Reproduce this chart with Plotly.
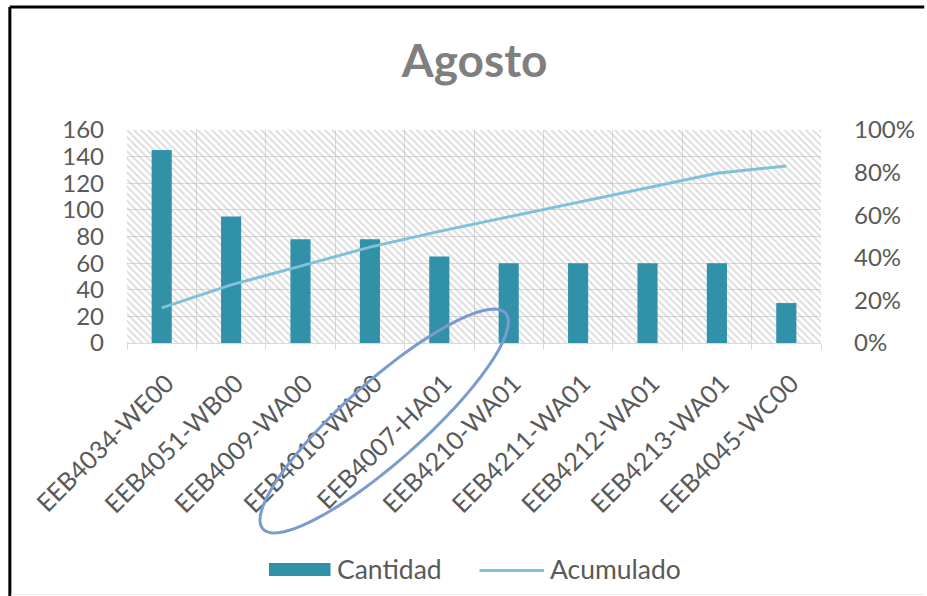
import math
import plotly.graph_objects as go

# Pareto data for August
categorias = ["EEB4034-WE00", "EEB4051-WB00", "EEB4009-WA00", "EEB4010-WA00",
              "EEB4007-HA01", "EEB4210-WA01", "EEB4211-WA01", "EEB4212-WA01",
              "EEB4213-WA01", "EEB4045-WC00"]
cantidad = [145, 95, 78, 78, 65, 60, 60, 60, 60, 30]
acumulado = [0.165, 0.273, 0.361, 0.450, 0.524, 0.592, 0.660, 0.728, 0.797, 0.831]

y_ticks = [0, 20, 40, 60, 80, 100, 120, 140, 160]
y2_ticks = [0, 0.2, 0.4, 0.6, 0.8, 1.0]

W, H = 927, 596
ML, MR, MT, MB = 127, 101, 130, 253
PW, PH = W - ML - MR, H - MT - MB

TEXT = "#595959"
BAR = "#3191a9"
LINE = "#7fc1da"
FONT = "Lato"


def px_to_paper(px, py):
    return (px - ML) / PW, (H - MB - py) / PH


def ellipse_path(cx, cy, a, b, deg, n=90):
    t = math.radians(deg)
    pts = []
    for i in range(n + 1):
        s = 2 * math.pi * i / n
        ex, ey = a * math.cos(s), b * math.sin(s)
        px = cx + ex * math.cos(t) + ey * math.sin(t)
        py = cy - ex * math.sin(t) + ey * math.cos(t)
        pts.append(px_to_paper(px, py))
    return "M " + " L ".join(f"{x:.5f},{y:.5f}" for x, y in pts) + " Z"


def paper_line(x0, y0, x1, y1, color, width):
    a, b = px_to_paper(x0, y0)
    c, d = px_to_paper(x1, y1)
    return dict(type="line", xref="paper", yref="paper", x0=a, y0=b, x1=c, y1=d,
                line=dict(color=color, width=width))


fig = go.Figure()

# hatched plot background
fig.add_trace(go.Bar(
    x=categorias, y=[y_ticks[-1]] * len(categorias), width=1,
    marker=dict(color="rgba(0,0,0,0)", line=dict(width=0),
                pattern=dict(shape="\\", fgcolor="#b8b8b8", fillmode="overlay",
                             size=5, solidity=0.35)),
    hoverinfo="skip", showlegend=False,
))

fig.add_trace(go.Bar(
    x=categorias, y=cantidad, name="Cantidad", width=0.29,
    marker=dict(color=BAR, line=dict(width=0)), showlegend=False,
))

fig.add_trace(go.Scatter(
    x=categorias, y=acumulado, name="Acumulado", yaxis="y2",
    mode="lines", line=dict(color=LINE, width=3), showlegend=False,
))

# legend swatches
rx0, ry0 = px_to_paper(270, 563)
rx1, ry1 = px_to_paper(332, 576)
shapes = [
    paper_line(9, 7, 930, 7, "black", 3),
    paper_line(9, 7, 9, 600, "black", 3),
    paper_line(10, 594.5, 930, 594.5, "#ededed", 1),
    dict(type="rect", xref="paper", yref="paper", x0=rx0, y0=ry0, x1=rx1, y1=ry1,
         fillcolor=BAR, line=dict(width=0)),
    paper_line(482, 570.5, 547, 570.5, LINE, 3),
    dict(type="path", xref="paper", yref="paper",
         path=ellipse_path(386, 421, 163, 40, 41.4),
         line=dict(color="#7b9bd0", width=3)),
]

annotations = []
for label, px in (("Cantidad", 337), ("Acumulado", 551)):
    ax, ay = px_to_paper(px, 569)
    annotations.append(dict(text=label, x=ax, y=ay, xref="paper", yref="paper",
                            xanchor="left", yanchor="middle", showarrow=False,
                            font=dict(family=FONT, size=26.5, color=TEXT)))

fig.update_layout(
    width=W, height=H,
    margin=dict(l=ML, r=MR, t=MT, b=MB),
    paper_bgcolor="white", plot_bgcolor="white",
    barmode="overlay", showlegend=False,
    font=dict(family=FONT, color=TEXT, size=22),
    title=dict(text="<b>Agosto</b>", x=0.512, xanchor="center",
               y=1 - 61 / H, yanchor="middle",
               font=dict(family=FONT, size=46, color="#7f7f7f")),
    xaxis=dict(type="category", tickson="boundaries", showgrid=True,
               gridcolor="#d9d9d9", gridwidth=1,
               showline=True, linecolor="#d9d9d9", linewidth=1,
               ticks="outside", ticklen=6, tickcolor="#d9d9d9",
               tickangle=-45, tickfont=dict(size=25, color=TEXT),
               ticklabelstandoff=15, ticklabelshift=5,
               range=[-0.5, len(categorias) - 0.5]),
    yaxis=dict(range=[0, 160], tickvals=y_ticks, showgrid=True,
               gridcolor="#d9d9d9", gridwidth=1, zeroline=False,
               tickfont=dict(size=24, color=TEXT), ticklabelstandoff=22),
    yaxis2=dict(range=[0, 1], tickvals=y2_ticks, tickformat=".0%",
                overlaying="y", side="right", showgrid=False, zeroline=False,
                tickfont=dict(size=24, color=TEXT), ticklabelstandoff=32),
    shapes=shapes,
    annotations=annotations,
)

fig.write_html("out.html")
